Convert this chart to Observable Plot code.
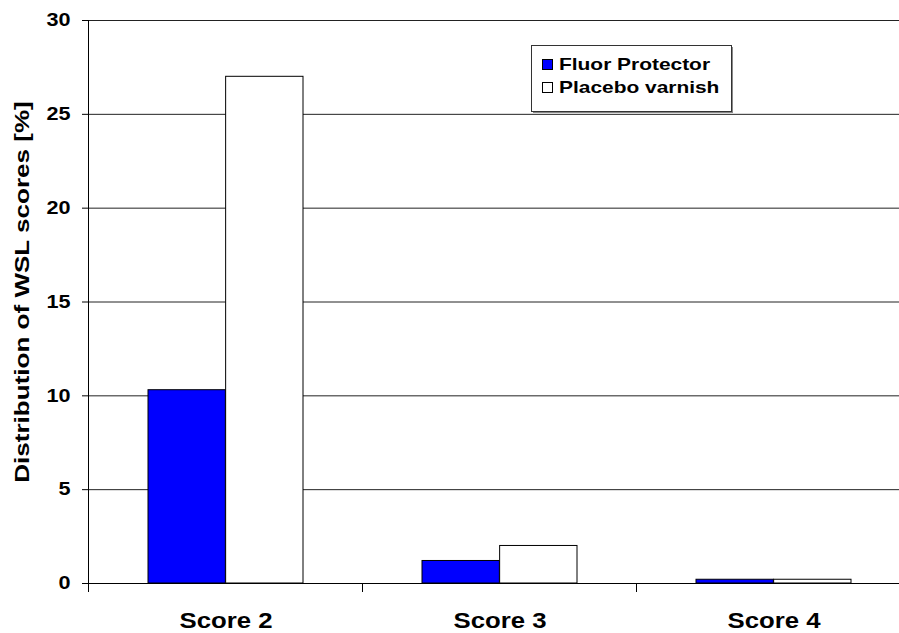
<!DOCTYPE html>
<html>
<head>
<meta charset="utf-8">
<script src="https://cdn.jsdelivr.net/npm/d3@7"></script>
<script src="https://cdn.jsdelivr.net/npm/@observablehq/plot@0.6"></script>
<style>
  html, body { margin: 0; padding: 0; background: #fff; }
  #wrap { position: relative; width: 899px; height: 633px; overflow: hidden; font-family: Arial, "Liberation Sans", sans-serif; }
  #legend { position: absolute; left: 531px; top: 45px; }
</style>
</head>
<body>
<div id="wrap"><div id="chart"></div><svg id="legend" width="203" height="70"></svg></div>
<script>
const categories = ["Score 2", "Score 3", "Score 4"];
const fluorValues = [10.3, 1.2, 0.2];
const placeboValues = [27.0, 2.0, 0.2];
const seriesNames = ["Fluor Protector", "Placebo varnish"];
const seriesColors = ["#0000ff", "#ffffff"];
const yTicks = [0, 5, 10, 15, 20, 25, 30];
const yLabel = "Distribution of WSL scores [%]";

const fluor = categories.map((c, i) => ({cat: c, v: fluorValues[i]}));
const placebo = categories.map((c, i) => ({cat: c, v: placeboValues[i]}));

const W = 899, H = 633;
const mL = 88, mR = -12, mT = 20, mB = 50;
const pIn = 0.434, pOut = 0.217;
const step = (W - mR - mL) / (categories.length - pIn + 2 * pOut);
const half = step * (1 - pIn) / 2;
const FONT = "Arial, 'Liberation Sans', sans-serif";

// boundary ticks and left axis line, drawn from the x and y scales
function boundaryTicks(index, scales) {
  const x = scales.x, y = scales.y;
  const st = x.step(), bw = x.bandwidth();
  const g = d3.create("svg:g");
  const y0 = y(0), yTop = y(30);
  const starts = categories.map(c => x(c) - (st - bw) / 2);
  g.append("line").attr("x1", starts[0]).attr("x2", starts[0]).attr("y1", yTop).attr("y2", y0 + 9)
    .attr("stroke", "#000").attr("stroke-width", 1);
  for (const s of starts.slice(1)) {
    g.append("line").attr("x1", s).attr("x2", s).attr("y1", y0).attr("y2", y0 + 9)
      .attr("stroke", "#000").attr("stroke-width", 1);
  }
  return g.node();
}

const chart = Plot.plot({
  width: W, height: H,
  marginLeft: mL, marginRight: mR, marginTop: mT, marginBottom: mB,
  style: {fontFamily: FONT, background: "#fff", overflow: "visible"},
  x: {domain: categories, paddingInner: pIn, paddingOuter: pOut, label: null},
  y: {domain: [0, 30], label: null},
  marks: [
    Plot.ruleY(yTicks.slice(1), {stroke: "#222", strokeWidth: 1}),
    Plot.barY(fluor, {x: "cat", y: "v", fill: seriesColors[0], stroke: "#000", strokeWidth: 1, insetRight: half}),
    Plot.barY(placebo, {x: "cat", y: "v", fill: seriesColors[1], stroke: "#000", strokeWidth: 1, insetLeft: half}),
    Plot.ruleY([0], {stroke: "#000", strokeWidth: 1}),
    Plot.axisY({ticks: yTicks, tickSize: 6, tickPadding: 12, fontSize: 18, fontWeight: "bold", label: null, stroke: "#000"}),
    Plot.axisX({tickSize: 0, tickPadding: 29, fontSize: 22, fontWeight: "bold", label: null}),
    boundaryTicks,
    Plot.text([yLabel], {frameAnchor: "left", textAnchor: "middle", rotate: -90, dx: -66, dy: -10, fontSize: 21, fontWeight: "bold", fill: "#000"})
  ]
});
document.getElementById("chart").appendChild(chart);

function stretch(nodes, factor) {
  nodes.each(function () {
    const L = this.getComputedTextLength();
    this.setAttribute("textLength", L * factor);
    this.setAttribute("lengthAdjust", "spacingAndGlyphs");
  });
}
const sv = d3.select(chart);
stretch(sv.selectAll('g[aria-label="y-axis tick label"] text'), 1.2);
stretch(sv.selectAll('g[aria-label="x-axis tick label"] text'), 1.17);
stretch(sv.selectAll('g[aria-label="text"] text'), 1.24);

// legend
const lg = d3.select("#legend");
lg.append("rect").attr("x", 2).attr("y", 2).attr("width", 200).attr("height", 66).attr("fill", "#888");
lg.append("rect").attr("x", 0.5).attr("y", 0.5).attr("width", 200).attr("height", 66)
  .attr("fill", "#fff").attr("stroke", "#333").attr("stroke-width", 1);
seriesNames.forEach((n, i) => {
  const base = i === 0 ? 25 : 48;
  lg.append("rect").attr("x", 11.5).attr("y", base - 10.5).attr("width", 10).attr("height", 10)
    .attr("fill", seriesColors[i]).attr("stroke", "#000").attr("stroke-width", 1);
  lg.append("text").attr("x", 28).attr("y", base).attr("font-family", FONT).attr("font-size", 17)
    .attr("font-weight", "bold").attr("fill", "#000").text(n);
});
stretch(lg.selectAll("text"), 1.23);
</script>
</body>
</html>
